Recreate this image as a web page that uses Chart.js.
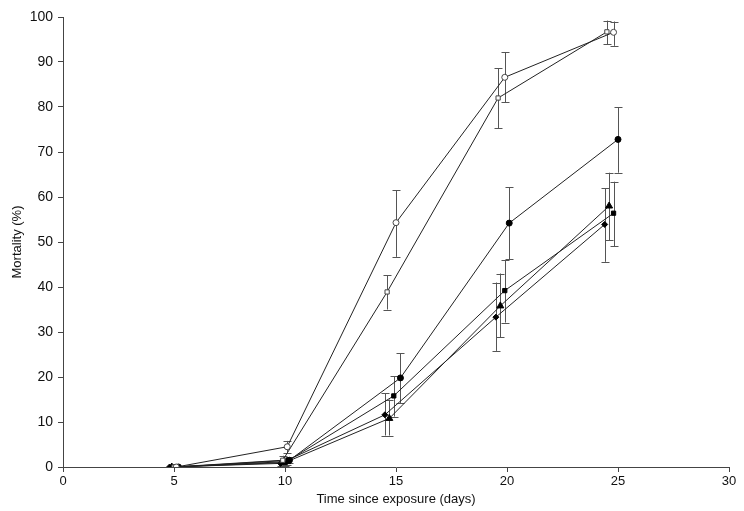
<!DOCTYPE html>
<html>
<head>
<meta charset="utf-8">
<script src="https://cdn.jsdelivr.net/npm/chart.js@4/dist/chart.umd.min.js"></script>
<style>
  html, body { margin: 0; padding: 0; background: #fff; }
  #wrap { width: 744px; height: 511px; }
</style>
</head>
<body>
<div id="wrap"><canvas id="myChart"></canvas></div>
<script>
// x positions are offset a little around each day, as in the figure
const openCircleX = [5.1, 10.1, 15.0, 19.9, 24.8];
const openCircleY = [0, 4.5, 54.3, 86.6, 96.6];
const openCircleLo = [0, 3.2, 46.7, 81.0, 93.6];
const openCircleHi = [0, 5.8, 61.5, 92.2, 99.0];

const openSquareX = [5.0, 9.9, 14.6, 19.6, 24.5];
const openSquareY = [0, 1.5, 38.9, 82.0, 96.7];
const openSquareLo = [0, 0.5, 35.0, 75.3, 93.9];
const openSquareHi = [0, 2.5, 42.6, 88.6, 99.2];

const filledCircleX = [5.2, 10.2, 15.2, 20.1, 25.0];
const filledCircleY = [0, 1.5, 19.8, 54.2, 72.8];
const filledCircleLo = [0, 0.8, 14.2, 46.2, 65.4];
const filledCircleHi = [0, 2.2, 25.3, 62.2, 79.9];

const filledSquareX = [5.0, 10.0, 14.9, 19.9, 24.8];
const filledSquareY = [0, 1.0, 15.8, 39.2, 56.4];
const filledSquareLo = [0, 0.3, 11.2, 32.1, 49.1];
const filledSquareHi = [0, 1.8, 20.2, 46.0, 63.4];

const triangleX = [4.9, 10.1, 14.7, 19.7, 24.6];
const triangleY = [0, 1.2, 10.8, 35.8, 58.0];
const triangleLo = [0, 0.5, 7.0, 28.8, 50.4];
const triangleHi = [0, 2.0, 15.0, 43.0, 65.4];

const diamondX = [4.8, 9.8, 14.5, 19.5, 24.4];
const diamondY = [0, 0.8, 11.6, 33.3, 53.9];
const diamondLo = [0, 0.2, 7.0, 25.8, 45.6];
const diamondHi = [0, 1.5, 16.4, 41.0, 61.9];

const xTicks = [0, 5, 10, 15, 20, 25, 30];
const yTicks = [0, 10, 20, 30, 40, 50, 60, 70, 80, 90, 100];

function makeSeries(label, xs, ys, lo, hi, style, filled) {
  return {
    label: label,
    data: xs.map((x, i) => ({ x: x, y: ys[i], lo: lo[i], hi: hi[i] })),
    showLine: true,
    borderColor: "#222",
    borderWidth: 1,
    pointStyle: style,
    pointRadius: style === "triangle" ? 4 : 3,
    pointBackgroundColor: filled ? "#000" : "#fff",
    pointBorderColor: filled ? "#000" : "#444",
    pointBorderWidth: 1,
  };
}

// error bars drawn through the chart scales
const errorBars = {
  id: "errorBars",
  beforeDatasetsDraw(chart) {
    const ctx = chart.ctx;
    const xs = chart.scales.x;
    const ys = chart.scales.y;
    ctx.save();
    ctx.strokeStyle = "#555";
    ctx.lineWidth = 1;
    chart.data.datasets.forEach((ds) => {
      ds.data.forEach((p) => {
        if (p.hi - p.lo <= 0) return;
        const px = Math.round(xs.getPixelForValue(p.x)) + 0.5;
        const top = ys.getPixelForValue(p.hi);
        const bot = ys.getPixelForValue(p.lo);
        ctx.beginPath();
        ctx.moveTo(px, top);
        ctx.lineTo(px, bot);
        ctx.moveTo(px - 4, Math.round(top) + 0.5);
        ctx.lineTo(px + 4, Math.round(top) + 0.5);
        ctx.moveTo(px - 4, Math.round(bot) + 0.5);
        ctx.lineTo(px + 4, Math.round(bot) + 0.5);
        ctx.stroke();
      });
    });
    ctx.restore();
  },
};

const config = {
  type: "scatter",
  data: {
    datasets: [
      makeSeries("Open circle", openCircleX, openCircleY, openCircleLo, openCircleHi, "circle", false),
      makeSeries("Open square", openSquareX, openSquareY, openSquareLo, openSquareHi, "rect", false),
      makeSeries("Filled circle", filledCircleX, filledCircleY, filledCircleLo, filledCircleHi, "circle", true),
      makeSeries("Filled square", filledSquareX, filledSquareY, filledSquareLo, filledSquareHi, "rect", true),
      makeSeries("Triangle", triangleX, triangleY, triangleLo, triangleHi, "triangle", true),
      makeSeries("Diamond", diamondX, diamondY, diamondLo, diamondHi, "rectRot", true),
    ],
  },
  options: {
    responsive: true,
    maintainAspectRatio: false,
    animation: false,
    layout: { padding: { top: 17, right: 15, left: 6, bottom: 0 } },
    plugins: {
      legend: { display: false },
      tooltip: { enabled: false },
    },
    scales: {
      x: {
        type: "linear",
        min: 0,
        max: 30,
        afterBuildTicks: (axis) => { axis.ticks = xTicks.map((v) => ({ value: v })); },
        afterFit: (axis) => { axis.height = 44; },
        grid: { drawOnChartArea: false, tickLength: 5, color: "#444" },
        border: { color: "#444", width: 1 },
        ticks: { color: "#111", font: { family: "Liberation Sans Narrow, Arial", size: 13 }, padding: 2, maxRotation: 0 },
        title: { display: true, text: "Time since exposure (days)", color: "#111", font: { family: "Arial", size: 13 }, padding: { top: 2 } },
      },
      y: {
        min: 0,
        max: 100,
        afterBuildTicks: (axis) => { axis.ticks = yTicks.map((v) => ({ value: v })); },
        afterFit: (axis) => { axis.width = 57; },
        grid: { drawOnChartArea: false, tickLength: 5, color: "#444" },
        border: { color: "#444", width: 1 },
        ticks: { color: "#111", font: { family: "Arial", size: 14 }, padding: 5 },
        title: { display: true, text: "Mortality (%)", color: "#111", font: { family: "Arial", size: 13 }, padding: { bottom: 4 } },
      },
    },
  },
  plugins: [errorBars],
};

const myChart = new Chart(document.getElementById("myChart"), config);
</script>
</body>
</html>
